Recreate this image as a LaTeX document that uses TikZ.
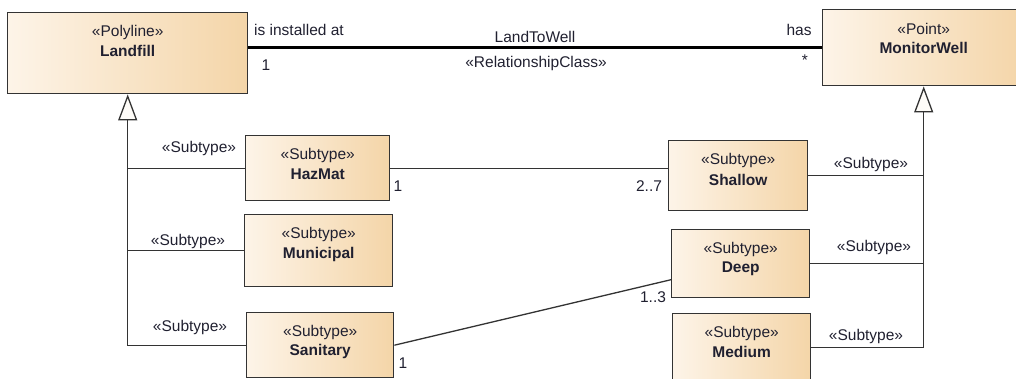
\documentclass[tikz,border=0pt]{standalone}
\usepackage{fontspec}
\setmainfont{Liberation Sans}
\usetikzlibrary{arrows.meta,calc}
\definecolor{boxleft}{HTML}{FDF4E8}
\definecolor{boxright}{HTML}{F4D5A8}
\definecolor{umlline}{HTML}{333333}
\definecolor{umltext}{HTML}{202030}
\tikzset{
  cls/.style={draw=umlline, line width=1.4pt, left color=boxleft, right color=boxright, anchor=north west, inner sep=0pt},
  lbl/.style={font=\fontsize{15.5}{18}\selectfont, text=umltext, inner sep=0pt},
  cname/.style={lbl, font=\fontsize{15.5}{18}\selectfont\bfseries},
  rel/.style={draw=umlline, line width=1.3pt},
  gen/.style={rel, -{Triangle[length=26pt, width=19pt, fill=white!92!boxright]}},
}
\begin{document}
\begin{tikzpicture}[x=1pt,y=1pt,yscale=-1,xscale=1]
  \useasboundingbox (0,0) rectangle (1016,378);
  % classes
  \node[cls, minimum width=240pt, minimum height=81pt] (landfill) at (7,12) {};
  \node[lbl] at ($(landfill.north)+(0,20)$) {«Polyline»};
  \node[cname] at ($(landfill.north)+(0,39)$) {Landfill};
  \node[cls, minimum width=202pt, minimum height=76pt] (monitorwell) at (822,9) {};
  \node[lbl] at ($(monitorwell.north)+(0,20)$) {«Point»};
  \node[cname] at ($(monitorwell.north)+(0,39)$) {MonitorWell};
  % subtypes of Landfill
  \node[cls, minimum width=144pt, minimum height=65pt] (hazmat) at (245,135) {};
  \node[lbl] at ($(hazmat.north)+(0,20)$) {«Subtype»};
  \node[cname] at ($(hazmat.north)+(0,39)$) {HazMat};
  \node[cls, minimum width=148pt, minimum height=72pt] (municipal) at (244,214) {};
  \node[lbl] at ($(municipal.north)+(0,20)$) {«Subtype»};
  \node[cname] at ($(municipal.north)+(0,40)$) {Municipal};
  \node[cls, minimum width=147pt, minimum height=65pt] (sanitary) at (246,312) {};
  \node[lbl] at ($(sanitary.north)+(0,20)$) {«Subtype»};
  \node[cname] at ($(sanitary.north)+(0,39)$) {Sanitary};
  % subtypes of MonitorWell
  \node[cls, minimum width=139pt, minimum height=70pt] (shallow) at (668,140) {};
  \node[lbl] at ($(shallow.north)+(0,20)$) {«Subtype»};
  \node[cname] at ($(shallow.north)+(0,40)$) {Shallow};
  \node[cls, minimum width=138pt, minimum height=68pt] (deep) at (671,229) {};
  \node[lbl] at ($(deep.north)+(0,20)$) {«Subtype»};
  \node[cname] at ($(deep.north)+(0,40)$) {Deep};
  \node[cls, minimum width=138pt, minimum height=68pt] (medium) at (672,313) {};
  \node[lbl] at ($(medium.north)+(0,20)$) {«Subtype»};
  \node[cname] at ($(medium.north)+(0,39)$) {Medium};
  % LandToWell
  \draw[rel, line width=2.8pt, draw=black] (monitorwell.west -| landfill.east) -- (monitorwell.west);
  \node[lbl] (installed) at (299,30) {is installed at};
  \node[lbl] (landmult) at (266,65) {1};
  \node[lbl] (assocname) at (535,37) {LandToWell};
  \node[lbl] (assocstereo) at (536,63) {«RelationshipClass»};
  \node[lbl] (has) at (799,30) {has};
  \node[lbl] (wellmult) at (805,60) {*};
  % generalizations
  \draw[gen] (sanitary.west) -| (landfill.south);
  \draw[rel] (hazmat.west) -- (hazmat.west -| landfill.south);
  \draw[rel] (municipal.west) -- (municipal.west -| landfill.south);
  \draw[gen] (medium.east) -| (monitorwell.south);
  \draw[rel] (shallow.east) -- (shallow.east -| monitorwell.south);
  \draw[rel] (deep.east) -- (deep.east -| monitorwell.south);
  \node[lbl] (hazsub) at (199,148) {«Subtype»};
  \node[lbl] (munsub) at (188,241) {«Subtype»};
  \node[lbl] (sansub) at (190,327) {«Subtype»};
  \node[lbl] (shasub) at (871,164) {«Subtype»};
  \node[lbl] (deesub) at (874,247) {«Subtype»};
  \node[lbl] (medsub) at (866,336) {«Subtype»};
  % associations between subtypes
  \draw[rel] (hazmat.east) -- (hazmat.east -| shallow.west);
  \node[lbl] (hazmult) at (398,186) {1};
  \node[lbl] (shamult) at (649,186) {2..7};
  \coordinate (deepend) at ($(deep.west)+(0,16)$);
  \draw[rel] (sanitary.east) -- (deepend);
  \node[lbl] (sanmult) at (403,363) {1};
  \node[lbl] (deemult) at (653,297) {1..3};
\end{tikzpicture}
\end{document}
